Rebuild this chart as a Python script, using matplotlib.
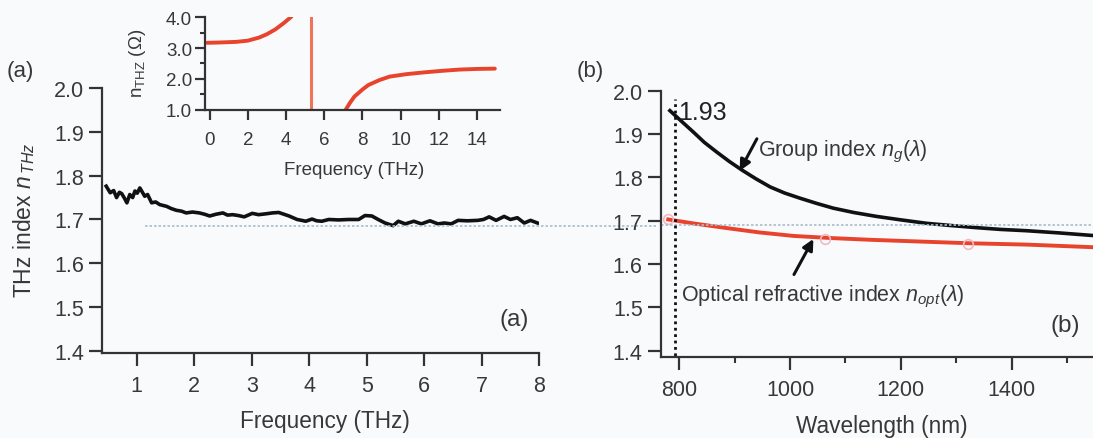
import matplotlib
matplotlib.use("Agg")
import matplotlib.pyplot as plt
from matplotlib.ticker import FormatStrFormatter

plt.rcParams['font.family'] = ['Liberation Sans', 'DejaVu Sans']
plt.rcParams['mathtext.fontset'] = 'custom'
plt.rcParams['mathtext.rm'] = 'Liberation Sans'
plt.rcParams['mathtext.it'] = 'Liberation Sans:italic'

# ---------------- data ----------------
# (a) THz refractive index vs frequency
thz_freq = [0.47, 0.54, 0.60, 0.65, 0.70, 0.74, 0.79, 0.83, 0.88, 0.93, 0.97, 1.01, 1.055, 1.10,
            1.14, 1.19, 1.26, 1.33, 1.40, 1.52, 1.60, 1.69, 1.78, 1.86, 1.97, 2.09, 2.18, 2.27,
            2.38, 2.50, 2.58, 2.67, 2.77, 2.87, 3.01, 3.12, 3.25, 3.36, 3.47, 3.56, 3.65, 3.79,
            3.87, 3.94, 4.05, 4.13, 4.22, 4.34, 4.51, 4.68, 4.86, 4.97, 5.09, 5.20, 5.32, 5.46,
            5.55, 5.67, 5.82, 5.95, 6.10, 6.24, 6.35, 6.47, 6.59, 6.75, 6.93, 7.03, 7.13, 7.25,
            7.39, 7.50, 7.62, 7.74, 7.85, 7.97]
thz_index = [1.776, 1.761, 1.766, 1.750, 1.762, 1.759, 1.748, 1.738, 1.757, 1.750, 1.765, 1.760,
             1.772, 1.762, 1.753, 1.757, 1.738, 1.740, 1.734, 1.730, 1.725, 1.721, 1.719, 1.715,
             1.717, 1.715, 1.712, 1.708, 1.712, 1.715, 1.710, 1.711, 1.709, 1.706, 1.714, 1.711,
             1.713, 1.715, 1.716, 1.712, 1.708, 1.700, 1.698, 1.696, 1.701, 1.697, 1.696, 1.700,
             1.699, 1.700, 1.700, 1.709, 1.708, 1.700, 1.692, 1.686, 1.696, 1.690, 1.696, 1.690,
             1.697, 1.690, 1.692, 1.690, 1.698, 1.697, 1.698, 1.700, 1.706, 1.698, 1.707, 1.700,
             1.704, 1.692, 1.698, 1.692]

# inset: n_THz (Ohm) vs frequency, three branches
inset_f1 = [-0.13, 0.5, 1.39, 2.0, 2.59, 3.0, 3.45, 3.9, 4.28]
inset_n1 = [3.17, 3.18, 3.20, 3.24, 3.34, 3.45, 3.61, 3.82, 4.02]
inset_f2 = [5.33, 5.33]
inset_n2 = [1.0, 4.0]
inset_f3 = [7.13, 7.35, 7.58, 8.0, 8.32, 8.9, 9.42, 10.3, 11.26, 12.2, 13.1, 14.0, 14.93]
inset_n3 = [1.00, 1.22, 1.42, 1.65, 1.80, 1.96, 2.07, 2.15, 2.21, 2.26, 2.30, 2.32, 2.33]

# (b) group index and optical index vs wavelength
wl_g = [783, 800, 825, 845, 867, 890, 913, 938, 964, 990, 1018, 1048, 1078, 1115, 1156, 1200,
        1247, 1290, 1337, 1380, 1427, 1485, 1546]
group_index = [1.954, 1.934, 1.905, 1.881, 1.859, 1.837, 1.817, 1.797, 1.778, 1.764, 1.752, 1.740,
               1.729, 1.719, 1.710, 1.702, 1.694, 1.689, 1.684, 1.680, 1.677, 1.672, 1.666]
wl_o = [780, 830, 886, 945, 1006, 1075, 1146, 1235, 1326, 1427, 1546]
opt_index = [1.703, 1.693, 1.683, 1.673, 1.665, 1.660, 1.656, 1.652, 1.648, 1.645, 1.639]
opt_pts_wl = [780, 1063, 1322]
opt_pts_n = [1.703, 1.658, 1.647]

ref_thz = 1.685        # horizontal dotted reference
laser_wl = 792         # vertical dotted line
ng_at_laser = "1.93"

# ---------------- figure ----------------
W, H = 1093, 439
bg = '#f9fafc'
txt = '#383838'
red = '#e8432d'
fig = plt.figure(figsize=(W / 100, H / 100), dpi=100, facecolor=bg)

def frac(x0, y_top, x1, y_bot):
    return [x0 / W, 1 - y_bot / H, (x1 - x0) / W, (y_bot - y_top) / H]

def style(ax, fs=15.5):
    ax.set_facecolor('none')
    for s in ['top', 'right']:
        ax.spines[s].set_visible(False)
    for s in ['left', 'bottom']:
        ax.spines[s].set_linewidth(1.6)
        ax.spines[s].set_color('#333333')
    ax.tick_params(which='major', length=9.4, width=1.6, color='#333333', labelsize=fs,
                   labelcolor=txt)
    ax.tick_params(axis='y', pad=3.6)
    ax.tick_params(axis='x', pad=6.5)
    ax.tick_params(which='minor', length=4, width=1.5, color='#333333')

# (a) main axes
axa = fig.add_axes(frac(102, 89, 539.2, 354))
style(axa)
axa.plot(thz_freq, thz_index, color='#111111', lw=2.6)
axa.plot([1.14, 10.04], [ref_thz, ref_thz], color='#a9bccb', lw=1.2, ls=(0, (1.5, 1.2)),
         clip_on=False)
axa.set_xlim(0.397, 8.0)
axa.set_ylim(1.3954, 2.0)
axa.set_xticks(range(1, 9))
axa.set_yticks([1.4, 1.5, 1.6, 1.7, 1.8, 1.9, 2.0])
axa.yaxis.set_major_formatter(FormatStrFormatter('%.1f'))
axa.text(7.57, 1.472, '(a)', fontsize=17.5, color=txt, ha='center', va='center')

# inset
axi = fig.add_axes(frac(205, 18.3, 500, 110.5))
style(axi, fs=13.5)
axi.tick_params(which='major', length=7.2)
axi.tick_params(axis='x', pad=8)
axi.tick_params(axis='y', pad=2)
axi.tick_params(which='minor', length=3.5)
axi.plot(inset_f1, inset_n1, color=red, lw=2.8, solid_capstyle='round')
axi.plot(inset_f2, inset_n2, color='#ee7558', lw=2.2)
axi.plot(inset_f3, inset_n3, color=red, lw=2.8, solid_capstyle='round')
axi.set_xlim(-0.24, 15.2)
axi.set_ylim(1.0, 4.0)
axi.set_xticks(range(0, 15, 2))
axi.set_yticks([1.0, 2.0, 3.0, 4.0])
axi.set_yticks([1.5, 2.5, 3.5], minor=True)
axi.yaxis.set_major_formatter(FormatStrFormatter('%.1f'))

# (b) axes
axb = fig.add_axes(frac(660.7, 91.7, 1093, 358.3))
style(axb)
axb.plot(wl_o, opt_index, color=red, lw=2.8)
axb.plot(opt_pts_wl, opt_pts_n, ls='none', marker='o', ms=7, mfc='none', mec='#f2b8c4', mew=1.2)
axb.plot(wl_g, group_index, color='#111111', lw=2.6)
axb.axhline(1.690, color='#a9bccb', lw=1.2, ls=(0, (1.5, 1.2)))
axb.plot([laser_wl, laser_wl], [1.3, 1.981], color='#111111', lw=2.0, ls=(0, (1, 1.3)))
axb.set_xlim(766.4, 1546.8)
axb.set_ylim(1.385, 2.0)
axb.set_xticks([800, 1000, 1200, 1400])
axb.set_xticks([900, 1100, 1300, 1500], minor=True)
axb.set_yticks([1.4, 1.5, 1.6, 1.7, 1.8, 1.9, 2.0])
axb.yaxis.set_major_formatter(FormatStrFormatter('%.1f'))

axb.text(798, 1.950, ng_at_laser, fontsize=18, color='#222222', ha='left', va='center')
axb.annotate('', xy=(909, 1.815), xytext=(940, 1.889),
             arrowprops=dict(arrowstyle='-|>', color='#111111', lw=2.2, mutation_scale=16,
                             shrinkA=0, shrinkB=0))
axb.text(942, 1.862, r'Group index $n_g(\lambda)$', fontsize=15.5, color=txt,
         ha='left', va='center')
axb.annotate('', xy=(1042, 1.658), xytext=(1007, 1.576),
             arrowprops=dict(arrowstyle='-|>', color='#111111', lw=2.2, mutation_scale=16,
                             shrinkA=0, shrinkB=0))
axb.text(803, 1.527, r'Optical refractive index $n_{opt}(\lambda)$', fontsize=15.5, color=txt,
         ha='left', va='center')
axb.text(1497, 1.460, '(b)', fontsize=17.5, color=txt, ha='center', va='center')

# figure-level labels
def ftext(x, y, s, **kw):
    fig.text(x / W, 1 - y / H, s, **kw)

ftext(7, 72, '(a)', fontsize=16, color=txt, ha='left', va='center')
ftext(577, 72, '(b)', fontsize=16, color=txt, ha='left', va='center')
ftext(24, 220, r'THz index $n_{\,THz}$', fontsize=16.5, color=txt, rotation=90,
      ha='center', va='center')
ftext(325, 428, 'Frequency (THz)', fontsize=16.3, color=txt, ha='center', va='baseline')
ftext(882, 433, 'Wavelength (nm)', fontsize=16.3, color=txt, ha='center', va='baseline')
ftext(354, 175, 'Frequency (THz)', fontsize=13.5, color=txt, ha='center', va='baseline')
ftext(137, 63, r'n$_{\mathrm{THZ}}$ ($\Omega$)', fontsize=13.5, color=txt, rotation=90,
      ha='center', va='center')

fig.savefig('out.png', dpi=100, facecolor=bg)
